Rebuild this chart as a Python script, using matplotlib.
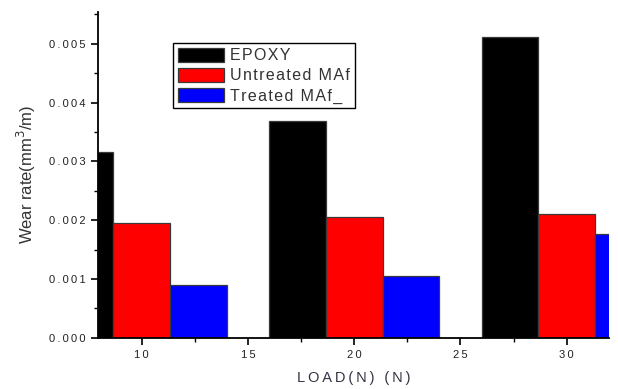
import matplotlib
matplotlib.use("Agg")
import matplotlib.pyplot as plt
from matplotlib.ticker import MultipleLocator, FuncFormatter
import numpy as np

plt.rcParams['font.family'] = ['Liberation Sans', 'DejaVu Sans']

loads = [10, 20, 30]
series_names = ["EPOXY", "Untreated MAf", "Treated MAf_"]
epoxy = [0.00316, 0.00368, 0.00512]
untreated = [0.00195, 0.00205, 0.00210]
treated = [0.00090, 0.00105, 0.00176]
colors = ["#000000", "#ff0000", "#0000ff"]

THIN = "\u2009"
HAIR = "\u200a"


def spaced(s, sep=THIN):
    return sep.join(s)


fig = plt.figure(figsize=(6.18, 3.89), dpi=100)
ax = fig.add_axes([98 / 618, 1 - 337.7 / 389, (609.3 - 98) / 618, (337.7 - 12) / 389])

width = 8 / 3
x = np.array(loads, dtype=float)
handles = []
for i, (vals, name, c) in enumerate(zip([epoxy, untreated, treated], series_names, colors)):
    h = ax.bar(x + (i - 1) * width, vals, width=width, color=c,
               edgecolor="#3a3a3a", linewidth=0.9, label=spaced(name, HAIR), zorder=2)
    handles.append(h)

ax.set_xlim(7.95, 32.0)
ax.set_ylim(0, 0.00554)

for side in ("top", "right"):
    ax.spines[side].set_visible(False)
for side in ("left", "bottom"):
    ax.spines[side].set_linewidth(1.3)
    ax.spines[side].set_zorder(3)

ax.xaxis.set_major_locator(MultipleLocator(5))
ax.xaxis.set_minor_locator(MultipleLocator(2.5))
ax.yaxis.set_major_locator(MultipleLocator(0.001))
ax.yaxis.set_minor_locator(MultipleLocator(0.0005))
ax.tick_params(which="major", direction="out", length=5, width=1.2, labelsize=8,
               labelcolor="#222222", pad=4)
ax.tick_params(which="minor", direction="out", length=3, width=1.0)
ax.xaxis.set_major_formatter(FuncFormatter(lambda v, p: spaced(f"{v:.0f}")))
ax.yaxis.set_major_formatter(FuncFormatter(lambda v, p: spaced(f"{v:.3f}")))

ax.set_xlabel(spaced("LOAD(N) (N)"), fontsize=10.5, color="#333344", labelpad=8)
ax.set_ylabel("Wear rate(mm$^3$/m)", fontsize=12, color="#333333", labelpad=8)

leg = fig.legend(handles=handles, loc="upper left",
                 bbox_to_anchor=(173 / 618, 1 - 43 / 389), borderaxespad=0,
                 fontsize=11.5, frameon=True, fancybox=False, framealpha=1,
                 edgecolor="black", handlelength=2.9, handleheight=0.95,
                 handletextpad=0.4, labelspacing=0.3, borderpad=0.3)
leg.get_frame().set_linewidth(1.0)
for t in leg.get_texts():
    t.set_color("#333333")

fig.savefig("out.png", dpi=100)
